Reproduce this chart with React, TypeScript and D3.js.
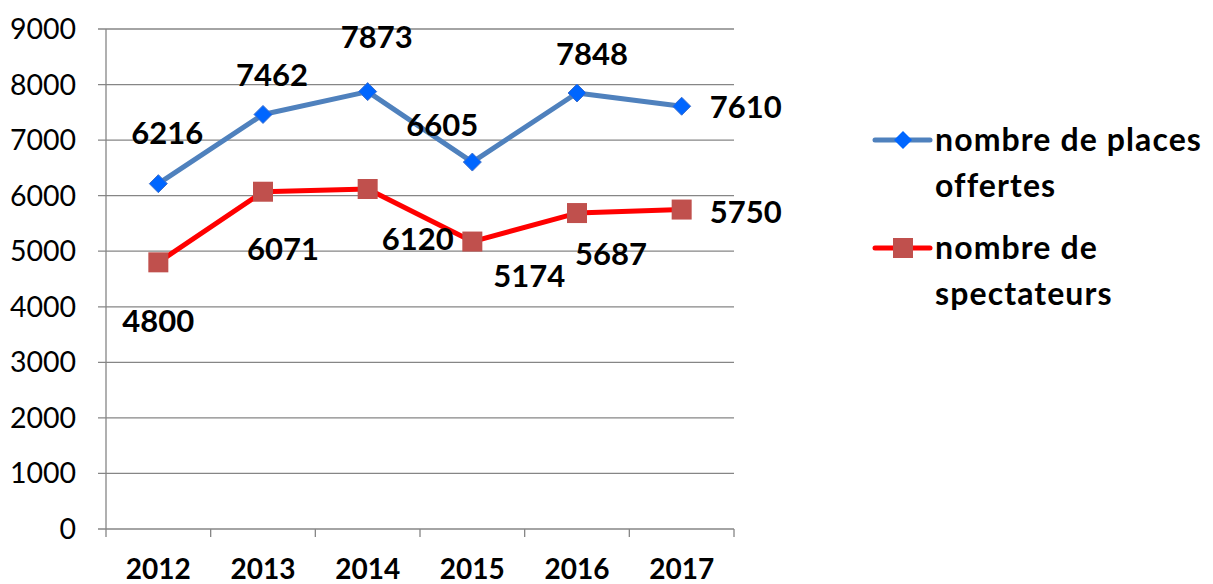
import React from "react";
import * as d3 from "d3";

const categories = ["2012", "2013", "2014", "2015", "2016", "2017"];
const placesOffertes = [6216, 7462, 7873, 6605, 7848, 7610];
const spectateurs = [4800, 6071, 6120, 5174, 5687, 5750];
const yTicks = [0, 1000, 2000, 3000, 4000, 5000, 6000, 7000, 8000, 9000];
const seriesNames = [["nombre de places", "offertes"], ["nombre de", "spectateurs"]];
// label offsets (dx, dy) relative to each point
const placesLabelOffsets = [[9, -51], [9, -39], [9, -54], [-30, -37], [15, -39], [64, 1]];
const spectLabelOffsets = [[0, 59], [20, 57], [50, 50], [57, 35], [34, 41], [64, 3]];

const W = 1213;
const H = 584;
const left = 106;
const right = 734;
const top = 29;
const bottom = 529;

export default function App() {
  const x = d3.scaleBand<string>().domain(categories).range([left, right]).padding(0);
  const y = d3.scaleLinear().domain([0, 9000]).range([bottom, top]);
  const cx = (c: string) => (x(c) as number) + x.bandwidth() / 2;
  const line = d3
    .line<number>()
    .x((_, i) => cx(categories[i]))
    .y((d) => y(d));
  const font = "Lato, 'Open Sans', sans-serif";
  const tickBounds = [...categories.map((c) => x(c) as number), right];
  const labelSize = 31;
  const legendSize = 32;

  return (
    <svg
      width={W}
      height={H}
      style={{ position: "absolute", left: 0, top: 0, background: "#fff" }}
      fontFamily={font}
    >
      {/* gridlines */}
      {yTicks.map((t) => (
        <line key={t} x1={98} x2={right} y1={y(t)} y2={y(t)} stroke="#868686" strokeWidth={1.3} />
      ))}
      {/* y axis */}
      <line x1={left} x2={left} y1={top} y2={bottom} stroke="#868686" strokeWidth={1.3} />
      {/* x ticks */}
      {tickBounds.map((t, i) => (
        <line key={i} x1={t} x2={t} y1={bottom} y2={bottom + 8} stroke="#868686" strokeWidth={1.3} />
      ))}
      {/* y tick labels */}
      {yTicks.map((t) => (
        <text key={t} x={76} y={y(t)} dy="0.35em" textAnchor="end" fontSize={28.5} fill="#000">
          {t}
        </text>
      ))}
      {/* x labels */}
      {categories.map((c) => (
        <text key={c} x={cx(c)} y={579} textAnchor="middle" fontSize={28} fontWeight="bold" fill="#000">
          {c}
        </text>
      ))}
      {/* lines */}
      <path d={line(placesOffertes) || ""} fill="none" stroke="#4F81BD" strokeWidth={5} strokeLinejoin="round" />
      <path d={line(spectateurs) || ""} fill="none" stroke="#FF0000" strokeWidth={5} strokeLinejoin="round" />
      {/* markers */}
      {placesOffertes.map((v, i) => {
        const px = cx(categories[i]);
        const py = y(v);
        const s = 9;
        return (
          <path
            key={i}
            d={`M${px},${py - s}L${px + s},${py}L${px},${py + s}L${px - s},${py}Z`}
            fill="#0066FF"
            stroke="#3D6FCC"
            strokeWidth={1}
          />
        );
      })}
      {spectateurs.map((v, i) => {
        const px = cx(categories[i]);
        const py = y(v);
        const s = 10;
        return <rect key={i} x={px - s} y={py - s} width={2 * s} height={2 * s} fill="#C0504D" />;
      })}
      {/* data labels */}
      {placesOffertes.map((v, i) => (
        <text
          key={i}
          x={cx(categories[i]) + placesLabelOffsets[i][0]}
          y={y(v) + placesLabelOffsets[i][1]}
          dy="0.35em"
          textAnchor="middle"
          fontSize={labelSize}
          fontWeight="bold"
          fill="#000"
        >
          {v}
        </text>
      ))}
      {spectateurs.map((v, i) => (
        <text
          key={i}
          x={cx(categories[i]) + spectLabelOffsets[i][0]}
          y={y(v) + spectLabelOffsets[i][1]}
          dy="0.35em"
          textAnchor="middle"
          fontSize={labelSize}
          fontWeight="bold"
          fill="#000"
        >
          {v}
        </text>
      ))}
      {/* legend */}
      <g fontSize={legendSize} fontWeight="bold" fill="#000" letterSpacing={1.1}>
        <line x1={875} x2={930} y1={140} y2={140} stroke="#4F81BD" strokeWidth={5} strokeLinecap="round" />
        <path d="M903,131L912,140L903,149L894,140Z" fill="#0066FF" />
        <text x={935} y={140} dy="0.35em">
          {seriesNames[0][0]}
        </text>
        <text x={935} y={186} dy="0.35em">
          {seriesNames[0][1]}
        </text>
        <line x1={875} x2={930} y1={248} y2={248} stroke="#FF0000" strokeWidth={5} strokeLinecap="round" />
        <rect x={893} y={238} width={20} height={20} fill="#C0504D" />
        <text x={935} y={248} dy="0.35em">
          {seriesNames[1][0]}
        </text>
        <text x={935} y={294} dy="0.35em">
          {seriesNames[1][1]}
        </text>
      </g>
    </svg>
  );
}
